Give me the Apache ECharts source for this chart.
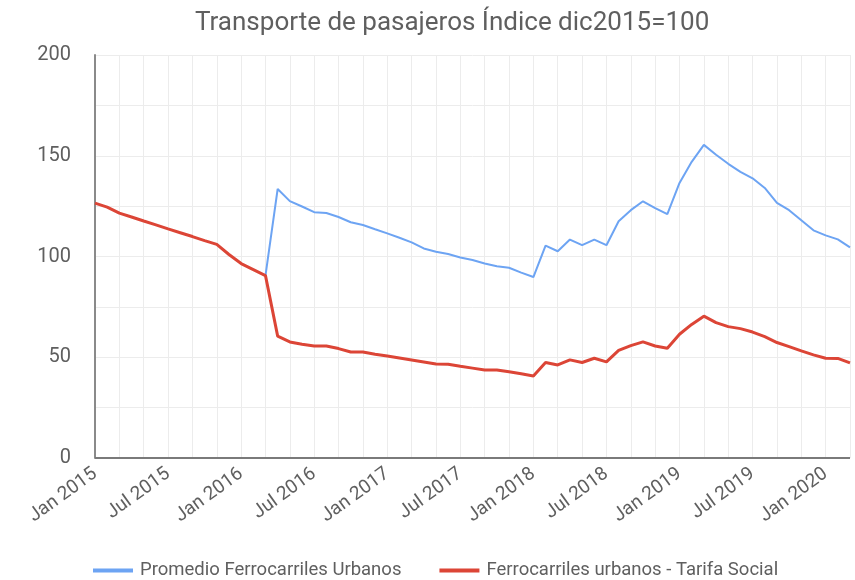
<!DOCTYPE html>
<html>
<head>
<meta charset="utf-8">
<script src="https://cdn.jsdelivr.net/npm/echarts@6/dist/echarts.min.js"></script>
<style>
  html, body { margin: 0; padding: 0; background: #fff; }
  #chart { width: 855px; height: 580px; }
</style>
</head>
<body>
<div id="chart"></div>
<script>
const months = [
  'Jan 2015', 'Feb 2015', 'Mar 2015', 'Apr 2015', 'May 2015', 'Jun 2015', 'Jul 2015', 'Aug 2015', 'Sep 2015', 'Oct 2015', 'Nov 2015', 'Dec 2015',
  'Jan 2016', 'Feb 2016', 'Mar 2016', 'Apr 2016', 'May 2016', 'Jun 2016', 'Jul 2016', 'Aug 2016', 'Sep 2016', 'Oct 2016', 'Nov 2016', 'Dec 2016',
  'Jan 2017', 'Feb 2017', 'Mar 2017', 'Apr 2017', 'May 2017', 'Jun 2017', 'Jul 2017', 'Aug 2017', 'Sep 2017', 'Oct 2017', 'Nov 2017', 'Dec 2017',
  'Jan 2018', 'Feb 2018', 'Mar 2018', 'Apr 2018', 'May 2018', 'Jun 2018', 'Jul 2018', 'Aug 2018', 'Sep 2018', 'Oct 2018', 'Nov 2018', 'Dec 2018',
  'Jan 2019', 'Feb 2019', 'Mar 2019', 'Apr 2019', 'May 2019', 'Jun 2019', 'Jul 2019', 'Aug 2019', 'Sep 2019', 'Oct 2019', 'Nov 2019', 'Dec 2019',
  'Jan 2020', 'Feb 2020', 'Mar 2020'
]

// Promedio Ferrocarriles Urbanos (starts Mar 2016)
const promedio = [
  null, null, null, null, null, null, null, null, null, null, null, null,
  null, null, 90.5, 133.5, 127.5, 124.8, 122, 121.6, 119.6, 117, 115.6, 113.5,
  111.5, 109.3, 107, 104, 102.4, 101.2, 99.5, 98.3, 96.5, 95.2, 94.4, 92,
  89.8, 105.4, 102.6, 108.4, 105.6, 108.4, 105.6, 117.5, 123, 127.4, 124, 121,
  136.5, 147, 155.4, 150.5, 146, 142, 138.8, 134, 126.6, 123, 118, 113,
  110.5, 108.5, 104.5
]

// Ferrocarriles urbanos - Tarifa Social
const tarifaSocial = [
  126.5, 124.5, 121.5, 119.6, 117.6, 115.7, 113.7, 111.8, 109.9, 107.9, 106, 101,
  96.5, 93.5, 90.5, 60.5, 57.6, 56.5, 55.6, 55.6, 54.3, 52.6, 52.6, 51.5,
  50.6, 49.6, 48.6, 47.6, 46.6, 46.5, 45.5, 44.6, 43.7, 43.7, 42.8, 41.8,
  40.7, 47.4, 46.2, 48.7, 47.4, 49.5, 47.7, 53.4, 55.8, 57.6, 55.6, 54.5,
  61.4, 66.3, 70.4, 67.2, 65.2, 64.2, 62.5, 60.2, 57.3, 55.3, 53.2, 51.2,
  49.5, 49.4, 47.2
]

const yTicks = [0, 50, 100, 150, 200]

const chart = echarts.init(document.getElementById('chart'))
const font = 'Roboto, sans-serif'
const textColor = '#5f5f5f'
const gridColor = '#ececec'

chart.setOption({
  animation: false,
  title: {
    text: 'Transporte de pasajeros Índice dic2015=100',
    left: 190,
    top: 5,
    textStyle: { fontFamily: font, fontSize: 26, fontWeight: 'normal', color: textColor }
  },
  legend: {
    bottom: 0,
    left: 93,
    padding: 0,
    itemWidth: 40,
    itemHeight: 4,
    itemGap: 38,
    icon: 'rect',
    textStyle: { fontFamily: font, fontSize: 18.5, color: textColor, padding: [0, 0, 0, 2] },
    data: ['Promedio Ferrocarriles Urbanos', 'Ferrocarriles urbanos - Tarifa Social']
  },
  grid: { left: 95, right: 5, top: 55, bottom: 122 },
  xAxis: {
    type: 'category',
    data: months,
    boundaryGap: false,
    axisLine: { show: false },
    axisTick: { show: false },
    axisLabel: {
      interval: 5,
      rotate: 36,
      margin: 14,
      fontFamily: font,
      fontSize: 19,
      color: textColor
    },
    splitLine: { show: true, interval: 1, lineStyle: { color: gridColor, width: 1 } }
  },
  yAxis: {
    type: 'value',
    min: 0,
    max: 200,
    interval: 25,
    axisLine: { show: true, lineStyle: { color: '#8a8a8a', width: 2 } },
    axisTick: { show: false },
    axisLabel: {
      margin: 24,
      fontFamily: font,
      fontSize: 20,
      color: textColor,
      formatter: v => (yTicks.includes(v) ? String(v) : '')
    },
    splitLine: { show: true, lineStyle: { color: gridColor, width: 1 } }
  },
  series: [
    {
      name: 'Promedio Ferrocarriles Urbanos',
      type: 'line',
      data: promedio,
      showSymbol: false,
      connectNulls: false,
      itemStyle: { color: '#6da4f3' },
      lineStyle: { color: '#6da4f3', width: 2 },
      z: 2
    },
    {
      name: 'Ferrocarriles urbanos - Tarifa Social',
      type: 'line',
      data: tarifaSocial,
      showSymbol: false,
      itemStyle: { color: '#dc4536' },
      lineStyle: { color: '#dc4536', width: 3 },
      z: 3,
      markLine: {
        silent: true,
        symbol: 'none',
        label: { show: false },
        lineStyle: { color: '#7a7a7a', width: 2, type: 'solid' },
        data: [{ yAxis: 0 }]
      }
    }
  ]
})
</script>
</body>
</html>
